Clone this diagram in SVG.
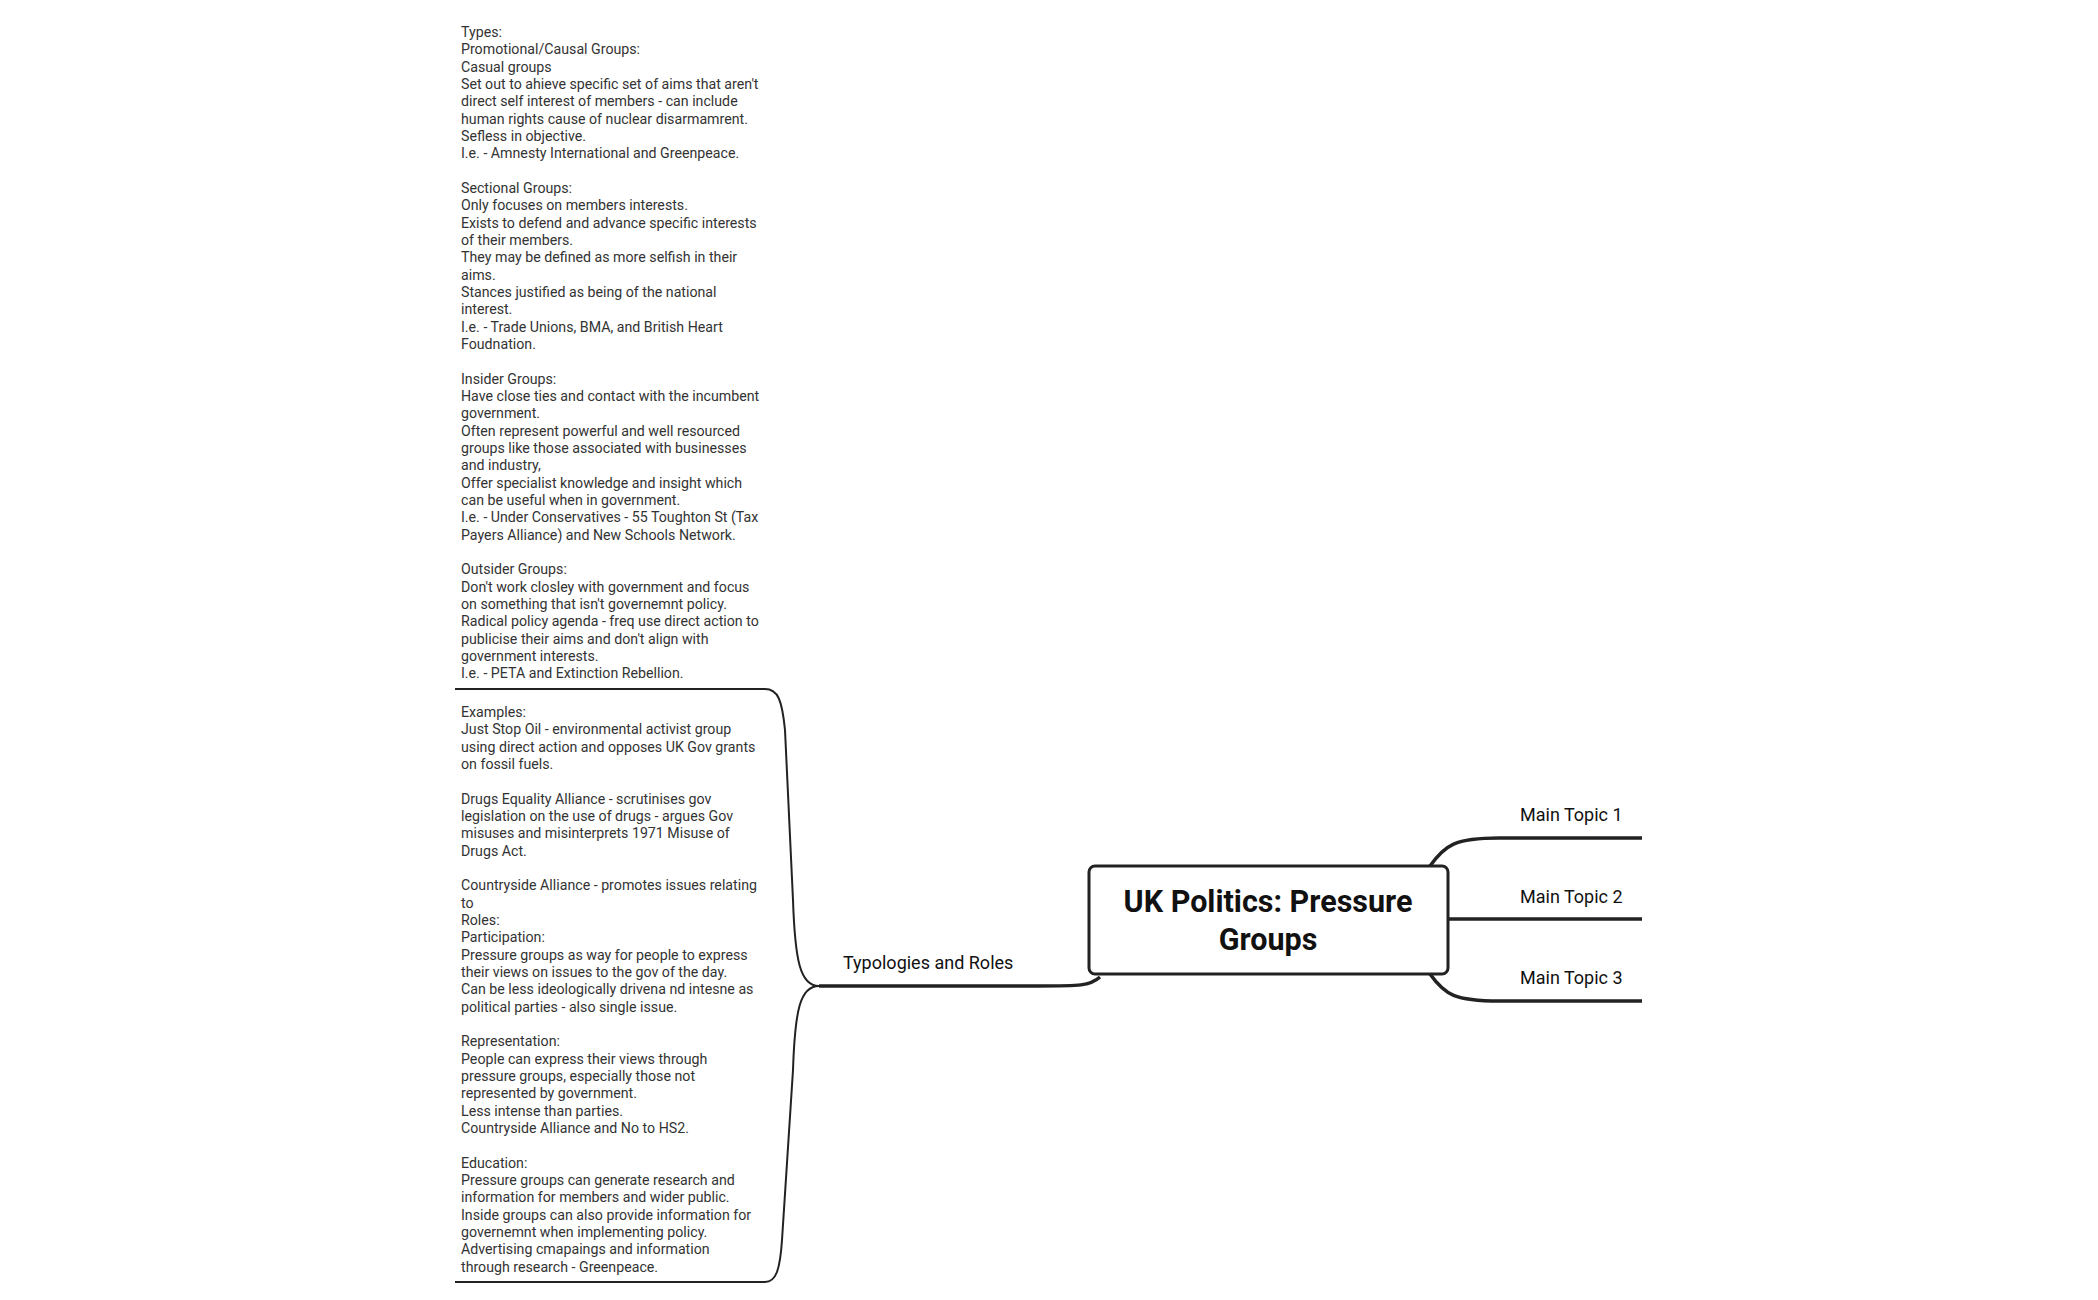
<svg xmlns="http://www.w3.org/2000/svg" width="2098" height="1300" viewBox="0 0 2098 1300">
<style>
.note{font-family:Roboto,"Liberation Sans",sans-serif;font-size:14.2px;fill:#333}
.topic{font-family:Roboto,"Liberation Sans",sans-serif;font-size:18px;fill:#111}
.line{fill:none;stroke:#222;stroke-width:2}
.thick{fill:none;stroke:#222;stroke-width:3.5}
</style>
<rect width="2098" height="1300" fill="#fff"/>
<g id="connectors">
<path class="thick" d="M1100,977 C1090,986 1080,986 1037,986 L819,986"/>
<path class="line" d="M819,986 C800,986 795,960 793,900 L785,730 C782,700 778,689 765,689 L455,689"/>
<path class="line" d="M819,986 C800,986 795,1010 793,1070 L782,1240 C780,1270 776,1282 765,1282 L455,1282"/>
<path class="thick" d="M1430,866 C1445,845 1455,838 1499,838 L1642,838"/>
<path class="thick" d="M1448,919 L1499,919 L1642,919"/>
<path class="thick" d="M1430,974 C1445,995 1455,1001 1499,1001 L1642,1001"/>
</g>
<g id="central">
<rect x="1089" y="866" width="359" height="108" rx="6" fill="#fff" stroke="#222" stroke-width="3"/>
<text x="1268" y="912" text-anchor="middle" font-family="Roboto,'Liberation Sans',sans-serif" font-size="30.5" font-weight="bold" fill="#111">UK Politics: Pressure</text>
<text x="1268" y="950" text-anchor="middle" font-family="Roboto,'Liberation Sans',sans-serif" font-size="30.5" font-weight="bold" fill="#111">Groups</text>
</g>
<g id="topic1"><text class="topic" x="1520" y="821">Main Topic 1</text></g>
<g id="topic2"><text class="topic" x="1520" y="903">Main Topic 2</text></g>
<g id="topic3"><text class="topic" x="1520" y="984">Main Topic 3</text></g>
<g id="typologies"><text class="topic" x="843" y="969">Typologies and Roles</text></g>
<g id="note-types">
<text class="note" x="461" y="37">
<tspan x="461" dy="0">Types:</tspan>
<tspan x="461" dy="17.33">Promotional/Causal Groups:</tspan>
<tspan x="461" dy="17.33">Casual groups</tspan>
<tspan x="461" dy="17.33">Set out to ahieve specific set of aims that aren't</tspan>
<tspan x="461" dy="17.33">direct self interest of members - can include</tspan>
<tspan x="461" dy="17.33">human rights cause of nuclear disarmamrent.</tspan>
<tspan x="461" dy="17.33">Sefless in objective.</tspan>
<tspan x="461" dy="17.33">I.e. - Amnesty International and Greenpeace.</tspan>
<tspan x="461" dy="34.66">Sectional Groups:</tspan>
<tspan x="461" dy="17.33">Only focuses on members interests.</tspan>
<tspan x="461" dy="17.33">Exists to defend and advance specific interests</tspan>
<tspan x="461" dy="17.33">of their members.</tspan>
<tspan x="461" dy="17.33">They may be defined as more selfish in their</tspan>
<tspan x="461" dy="17.33">aims.</tspan>
<tspan x="461" dy="17.33">Stances justified as being of the national</tspan>
<tspan x="461" dy="17.33">interest.</tspan>
<tspan x="461" dy="17.33">I.e. - Trade Unions, BMA, and British Heart</tspan>
<tspan x="461" dy="17.33">Foudnation.</tspan>
<tspan x="461" dy="34.66">Insider Groups:</tspan>
<tspan x="461" dy="17.33">Have close ties and contact with the incumbent</tspan>
<tspan x="461" dy="17.33">government.</tspan>
<tspan x="461" dy="17.33">Often represent powerful and well resourced</tspan>
<tspan x="461" dy="17.33">groups like those associated with businesses</tspan>
<tspan x="461" dy="17.33">and industry,</tspan>
<tspan x="461" dy="17.33">Offer specialist knowledge and insight which</tspan>
<tspan x="461" dy="17.33">can be useful when in government.</tspan>
<tspan x="461" dy="17.33">I.e. - Under Conservatives - 55 Toughton St (Tax</tspan>
<tspan x="461" dy="17.33">Payers Alliance) and New Schools Network.</tspan>
<tspan x="461" dy="34.66">Outsider Groups:</tspan>
<tspan x="461" dy="17.33">Don't work closley with government and focus</tspan>
<tspan x="461" dy="17.33">on something that isn't governemnt policy.</tspan>
<tspan x="461" dy="17.33">Radical policy agenda - freq use direct action to</tspan>
<tspan x="461" dy="17.33">publicise their aims and don't align with</tspan>
<tspan x="461" dy="17.33">government interests.</tspan>
<tspan x="461" dy="17.33">I.e. - PETA and Extinction Rebellion.</tspan>
</text>
</g>
<g id="note-examples">
<text class="note" x="461" y="717">
<tspan x="461" dy="0">Examples:</tspan>
<tspan x="461" dy="17.33">Just Stop Oil - environmental activist group</tspan>
<tspan x="461" dy="17.33">using direct action and opposes UK Gov grants</tspan>
<tspan x="461" dy="17.33">on fossil fuels.</tspan>
<tspan x="461" dy="34.66">Drugs Equality Alliance - scrutinises gov</tspan>
<tspan x="461" dy="17.33">legislation on the use of drugs - argues Gov</tspan>
<tspan x="461" dy="17.33">misuses and misinterprets 1971 Misuse of</tspan>
<tspan x="461" dy="17.33">Drugs Act.</tspan>
<tspan x="461" dy="34.66">Countryside Alliance - promotes issues relating</tspan>
<tspan x="461" dy="17.33">to</tspan>
<tspan x="461" dy="17.33">Roles:</tspan>
<tspan x="461" dy="17.33">Participation:</tspan>
<tspan x="461" dy="17.33">Pressure groups as way for people to express</tspan>
<tspan x="461" dy="17.33">their views on issues to the gov of the day.</tspan>
<tspan x="461" dy="17.33">Can be less ideologically drivena nd intesne as</tspan>
<tspan x="461" dy="17.33">political parties - also single issue.</tspan>
<tspan x="461" dy="34.66">Representation:</tspan>
<tspan x="461" dy="17.33">People can express their views through</tspan>
<tspan x="461" dy="17.33">pressure groups, especially those not</tspan>
<tspan x="461" dy="17.33">represented by government.</tspan>
<tspan x="461" dy="17.33">Less intense than parties.</tspan>
<tspan x="461" dy="17.33">Countryside Alliance and No to HS2.</tspan>
<tspan x="461" dy="34.66">Education:</tspan>
<tspan x="461" dy="17.33">Pressure groups can generate research and</tspan>
<tspan x="461" dy="17.33">information for members and wider public.</tspan>
<tspan x="461" dy="17.33">Inside groups can also provide information for</tspan>
<tspan x="461" dy="17.33">governemnt when implementing policy.</tspan>
<tspan x="461" dy="17.33">Advertising cmapaings and information</tspan>
<tspan x="461" dy="17.33">through research - Greenpeace.</tspan>
</text>
</g>
</svg>
